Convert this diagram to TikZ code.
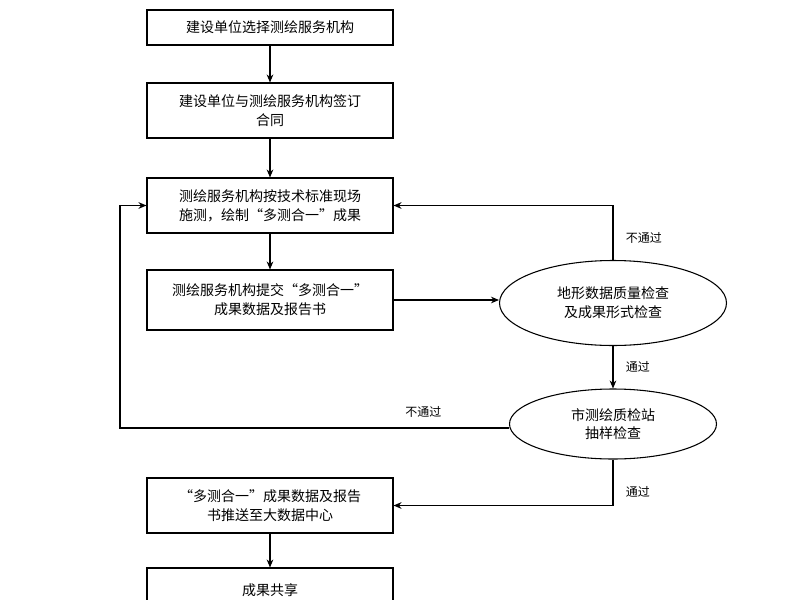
\documentclass[tikz,border=0pt]{standalone}
\usepackage{fontspec}
\newfontfamily\cjk{Noto Sans CJK SC}
\usetikzlibrary{shapes.geometric,arrows.meta}

\begin{document}
\begin{tikzpicture}[x=0.75pt,y=-0.75pt,
	box/.style={draw,thick,minimum width=246*0.75pt,align=center,font=\cjk\fontsize{10.5}{14}\selectfont,inner sep=2pt},
	oval/.style={draw,thick,ellipse,align=center,font=\cjk\fontsize{10.5}{14}\selectfont,inner sep=0pt},
	lbl/.style={font=\cjk\fontsize{9}{11}\selectfont},
	>={Stealth[length=6pt,width=5pt]}]
	\useasboundingbox (0,0) rectangle (800,600);
	\clip (0,0) rectangle (800,600);
	\node[box,minimum height=35*0.75pt] (sel) at (270,27.5) {建设单位选择测绘服务机构};
	\node[box,minimum height=55*0.75pt] (sign) at (270,110.5) {建设单位与测绘服务机构签订\\合同};
	\node[box,minimum height=55*0.75pt] (survey) at (270,205.5) {测绘服务机构按技术标准现场\\施测，绘制“多测合一”成果};
	\node[box,minimum height=60*0.75pt] (submit) at (270,300) {测绘服务机构提交“多测合一”\\成果数据及报告书};
	\node[oval,minimum width=227*0.75pt,minimum height=85*0.75pt] (check) at (613,303) {地形数据质量检查\\及成果形式检查};
	\node[oval,minimum width=207*0.75pt,minimum height=70*0.75pt] (sample) at (613,424) {市测绘质检站\\抽样检查};
	\node[box,minimum height=55*0.75pt] (push) at (270,505.5) {“多测合一”成果数据及报告\\书推送至大数据中心};
	\node[box,minimum height=45*0.75pt] (share) at (270,590.5) {成果共享};
	\coordinate (ret) at (120,428);
	% main flow
	\draw[thick,->] (sel) -- (sign);
	\draw[thick,->] (sign) -- (survey);
	\draw[thick,->] (survey) -- (submit);
	\draw[thick,->] (submit.east) -- (submit.east -| check.west);
	\draw[thick,->] (check) -- (sample) node[lbl,midway,right=6pt] {通过};
	\draw[thick,->] (check.north) |- (survey.east) node[lbl,pos=0.2,right=6pt] {不通过};
	\draw[thick,->] (sample.west |- ret) -- (ret) node[lbl,pos=0.22,above=4pt] {不通过} |- (survey.west);
	\draw[thick,->] (sample.south) |- (push.east) node[lbl,pos=0.35,right=6pt] {通过};
	\draw[thick,->] (push) -- (share);
\end{tikzpicture}
\end{document}
